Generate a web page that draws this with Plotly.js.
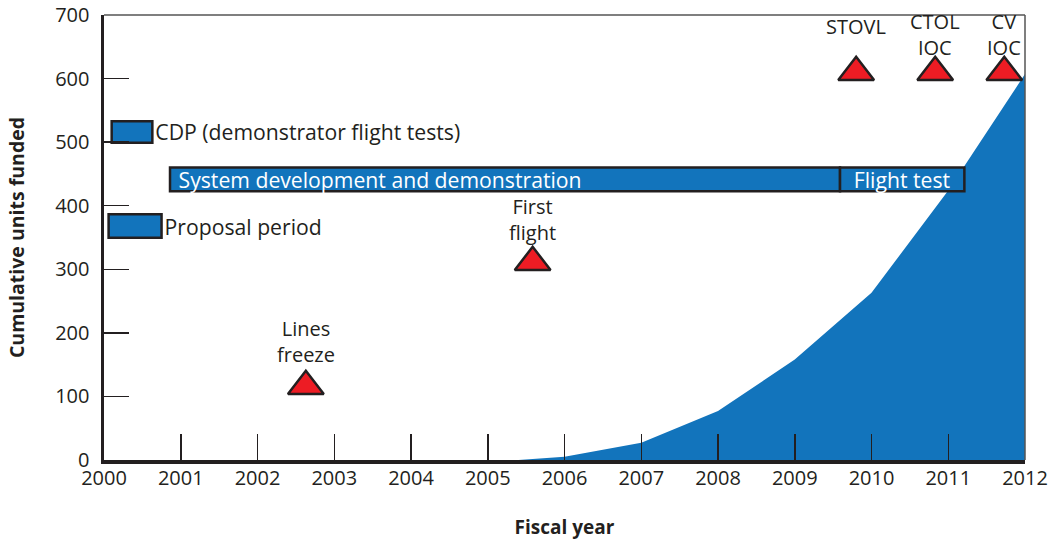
<!DOCTYPE html>
<html>
<head>
<meta charset="utf-8">
<script src="https://cdn.plot.ly/plotly-3.0.1.min.js"></script>
<style>html,body{margin:0;padding:0;background:#fff;}#chart{width:1053px;height:540px;}</style>
</head>
<body>
<div id="chart"></div>
<script>
// Cumulative units funded (area)
var fundYears = [2005.4, 2006, 2007, 2008, 2009, 2010, 2011, 2012];
var fundUnits = [0, 5, 27, 77, 158, 263, 424, 607];

// Program phases (horizontal bars): start year, end year, y-centre, y-thickness
var phaseNames  = ["CDP (demonstrator flight tests)", "Proposal period", "System development and demonstration", "Flight test"];
var phaseStart  = [2000.10, 2000.06, 2000.86, 2009.59];
var phaseEnd    = [2000.63, 2000.75, 2009.59, 2011.21];
var phaseY      = [516, 368, 441.5, 441.5];
var phaseHeight = [34, 37, 37.5, 37.5];

// Milestones (triangles)
var mileNames = ["Lines<br>freeze", "First<br>flight", "STOVL", "CTOL<br>IOC", "CV<br>IOC"];
var mileYears = [2002.63, 2005.585, 2009.80, 2010.83, 2011.73];
var mileY     = [116, 311, 610, 610, 610];

// Axis ticks
var xTicks = [2000, 2001, 2002, 2003, 2004, 2005, 2006, 2007, 2008, 2009, 2010, 2011, 2012];
var yTicks = [0, 100, 200, 300, 400, 500, 600, 700];

var BLUE = "#1274BC", DARK = "#231F20", RED = "#ED1C24";
var FONT = "Open Sans, Noto Sans, sans-serif";
var LBL = 21.2;

function sub(arr, idx) { return idx.map(function (i) { return arr[i]; }); }
function lens(idx) { return idx.map(function (i) { return phaseEnd[i] - phaseStart[i]; }); }

var area = {
  type: "scatter", mode: "lines", x: fundYears, y: fundUnits,
  xaxis: "x", yaxis: "y",
  fill: "tozeroy", fillcolor: BLUE, line: {width: 0, color: BLUE},
  hoverinfo: "skip", showlegend: false
};

function barTrace(idx, pos, anchor) {
  return {
    type: "bar", orientation: "h", xaxis: "x2", yaxis: "y2",
    y: sub(phaseY, idx), x: lens(idx), base: sub(phaseStart, idx), width: sub(phaseHeight, idx),
    text: sub(phaseNames, idx), textposition: pos, insidetextanchor: anchor,
    textfont: {family: FONT, size: LBL},
    outsidetextfont: {family: FONT, size: LBL, color: DARK},
    insidetextfont: {family: FONT, size: LBL, color: "#ffffff"},
    constraintext: "none", cliponaxis: false,
    marker: {color: BLUE, line: {color: DARK, width: 2.5}},
    hoverinfo: "skip", showlegend: false
  };
}

var barsOut = barTrace([0, 1], "outside", "start");
var barSDD  = barTrace([2], "inside", "start");
barSDD.text = ["\u00a0" + phaseNames[2]];
var barFT   = barTrace([3], "inside", "middle");

var tri = {
  type: "scatter", mode: "markers", x: mileYears, y: mileY, xaxis: "x2", yaxis: "y2",
  marker: {symbol: "triangle-up", size: 31, color: RED, line: {color: DARK, width: 2.5}},
  cliponaxis: false, hoverinfo: "skip", showlegend: false
};

var annotations = mileNames.map(function (name, i) {
  var top = mileY[i] > 500;
  var single = name.indexOf("<br>") < 0;
  var shift = top ? (single ? 30 : 9) : (mileY[i] > 200 ? 14 : 16);
  return {
    x: mileYears[i], y: mileY[i], xref: "x2", yref: "y2", text: name, showarrow: false,
    xanchor: "center", yanchor: "bottom", yshift: shift,
    font: {family: FONT, size: 20, color: DARK}
  };
});

var layout = {
  width: 1053, height: 540,
  margin: {l: 104, r: 28, t: 15, b: 80},
  paper_bgcolor: "#ffffff", plot_bgcolor: "#ffffff",
  barmode: "overlay",
  showlegend: false,
  xaxis: {
    range: [2000, 2012], tickvals: xTicks, ticktext: xTicks.map(String),
    ticks: "inside", ticklen: 26, tickwidth: 1.5, tickcolor: DARK,
    showgrid: false, zeroline: false,
    showline: true, linecolor: DARK, linewidth: 4,
    tickfont: {family: FONT, size: 20, color: DARK},
    ticklabelstandoff: -3,
    title: {text: "Fiscal year", font: {family: FONT, size: 19, color: DARK, weight: "bold"}, standoff: 33}
  },
  yaxis: {
    range: [0, 700], tickvals: yTicks, ticktext: yTicks.map(String),
    ticks: "inside", ticklen: 25, tickwidth: 1.5, tickcolor: DARK,
    showgrid: false, zeroline: false,
    showline: true, linecolor: DARK, linewidth: 3.5,
    tickfont: {family: FONT, size: 20, color: DARK},
    ticklabelstandoff: 7,
    title: {text: "Cumulative units funded", font: {family: FONT, size: 19.5, color: DARK, weight: "bold"}, standoff: 26}
  },
  xaxis2: {range: [2000, 2012], overlaying: "x", visible: false, fixedrange: true},
  yaxis2: {range: [0, 700], overlaying: "y", visible: false, fixedrange: true},
  shapes: [
    {type: "line", xref: "paper", yref: "paper", x0: 0, x1: 1, y0: 1, y1: 1, line: {color: "#555555", width: 1.5}},
    {type: "line", xref: "paper", yref: "paper", x0: 1, x1: 1, y0: 0, y1: 1, line: {color: "#555555", width: 1.5}}
  ],
  annotations: annotations
};

Plotly.newPlot("chart", [area, barsOut, barSDD, barFT, tri], layout, {staticPlot: true, displayModeBar: false});
</script>
</body>
</html>
